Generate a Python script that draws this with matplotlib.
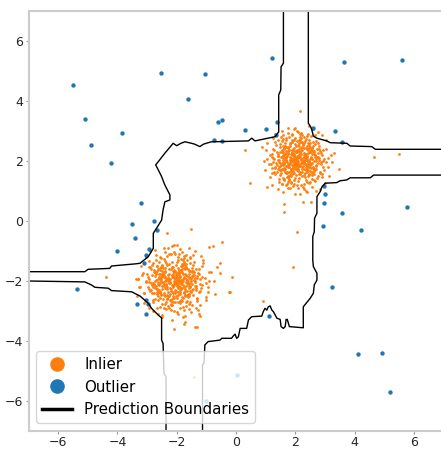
import numpy as np
import matplotlib
matplotlib.use("Agg")
import matplotlib.pyplot as plt
from matplotlib.lines import Line2D

# inliers around (2, 2): dense middle, then the looser ring around it
cluster_a = [
	(2.13,1.84), (1.87,2.21), (2.42,1.95), (1.65,1.62), (2.05,2.37), (2.31,1.73), (1.92,2.05), (1.58,2.29), (2.21,1.48), (2.67,2.12),
	(1.99,1.91), (1.74,1.79), (2.36,2.44), (2.08,1.66), (1.81,2.02), (2.54,1.88), (1.46,1.97), (2.12,2.58), (1.95,1.35), (2.28,2.18),
	(1.70,2.31), (2.03,1.76), (2.49,2.07), (1.88,1.55), (2.17,2.26), (1.61,1.93), (2.39,1.61), (2.00,2.14), (1.83,2.49), (2.25,1.99),
	(2.71,1.82), (1.52,2.11), (2.10,1.69), (1.97,2.33), (2.34,2.01), (1.77,1.45), (2.58,2.23), (1.90,1.87), (2.06,2.66), (1.68,2.08),
	(2.45,1.57), (2.19,2.41), (1.85,1.72), (2.62,1.98), (1.41,2.24), (2.02,1.52), (2.30,2.12), (1.79,2.36), (2.15,1.81), (1.94,2.19),
	(2.51,2.30), (1.63,1.77), (2.24,1.92), (2.09,2.52), (1.72,1.58), (2.38,1.83), (1.89,2.27), (2.80,2.04), (1.55,1.89), (2.14,1.41),
	(2.01,2.09), (1.76,2.43), (2.43,1.70), (1.93,1.98), (2.27,2.56), (1.60,2.16), (2.11,1.86), (2.56,2.38), (1.84,1.64), (2.20,2.03),
	(1.98,1.74), (2.33,2.22), (1.67,2.00), (2.47,1.79), (2.07,2.28), (1.82,1.94), (2.64,1.66), (1.49,1.81), (2.23,2.47), (1.96,2.11),
	(2.35,1.88), (1.73,2.15), (2.16,1.63), (2.52,2.09), (1.91,2.39), (2.04,1.96), (1.66,1.71), (2.29,1.51), (2.75,2.27), (1.86,2.06),
	(2.18,2.62), (1.57,2.01), (2.40,2.17), (2.00,1.83), (1.80,1.50), (2.26,1.91), (1.38,1.86), (2.60,1.75), (2.12,2.34), (1.95,1.60),
	(2.08,2.00), (1.78,1.87), (2.44,2.35), (1.62,2.40), (2.22,1.78), (1.90,2.20), (2.37,2.02), (1.71,1.96), (2.55,1.54), (2.03,2.48),
	(1.87,1.67), (2.31,1.97), (1.54,1.73), (2.14,2.13), (2.68,2.19), (1.99,1.43), (1.75,2.26), (2.41,1.85), (2.06,1.90), (1.83,2.60),
	(2.20,2.07), (1.64,2.22), (2.48,1.93), (1.93,1.76), (2.28,2.44), (1.69,1.84), (2.11,1.56), (2.86,1.89), (1.81,2.13), (2.36,1.68),
	(2.01,2.32), (1.59,1.95), (2.25,1.82), (1.96,2.05), (2.53,2.14), (1.73,1.62), (2.17,2.70), (1.88,1.99), (2.42,2.25), (2.05,1.70),
	(1.45,2.03), (2.32,2.10), (1.78,2.35), (2.61,1.80), (2.09,1.92), (1.85,1.48), (2.19,2.24), (1.67,2.12), (2.46,2.00), (1.97,2.42),
	(2.39,1.74), (1.76,1.90), (2.13,2.20), (1.92,1.65), (2.70,2.06), (1.56,2.28), (2.23,1.97), (2.00,2.55), (1.80,1.80), (2.34,1.59),
	(2.07,2.15), (1.70,2.04), (2.50,2.29), (1.89,2.37), (2.15,1.87), (1.62,1.69), (2.44,1.90), (1.95,2.23), (2.27,2.00), (1.83,1.53),
	(2.58,2.41), (1.48,1.92), (2.10,1.78), (2.02,2.08), (1.74,2.46), (2.36,2.17), (1.91,1.85), (2.65,1.71), (2.18,2.31), (1.86,2.10),
	(1.32,1.79), (2.21,1.64), (1.99,2.01), (2.47,2.51), (1.68,1.98), (2.12,2.40), (1.84,1.72), (2.30,1.95), (2.74,2.14), (1.94,1.89),
	(2.16,1.55), (1.61,2.18), (2.40,2.06), (2.04,1.81), (1.77,2.21), (2.29,2.27), (1.90,2.64), (2.55,1.94), (1.72,1.46), (2.08,2.09),
	(2.93,2.00), (1.52,1.70), (2.24,2.36), (1.97,1.93), (2.37,1.80), (1.82,2.03), (2.11,2.19), (1.65,2.50), (2.50,1.66), (2.00,1.98),
	(1.88,2.29), (2.33,1.88), (1.71,1.83), (2.63,2.24), (2.06,2.04), (1.79,1.61), (2.20,1.94), (1.42,2.16), (2.45,2.42), (1.93,1.78),
	(2.26,2.08), (1.86,2.00), (2.52,1.77), (1.60,2.09), (2.14,2.49), (2.01,1.87), (2.38,2.13), (1.75,2.32), (2.09,1.73), (1.96,2.16),
	(2.78,1.91), (1.57,1.86), (2.17,2.11), (1.85,1.95), (2.43,1.99), (1.69,2.25), (2.23,1.71), (2.03,2.30), (1.81,1.91), (2.35,2.21),
	(1.99,2.77), (2.57,2.33), (1.28,2.06), (2.10,1.32), (2.85,1.60), (1.50,2.55), (2.48,2.60), (1.63,1.40), (2.95,2.36), (1.22,1.75),
	(2.20,1.18), (1.90,2.88), (2.62,1.35), (1.40,2.70), (2.40,2.82), (1.55,1.22), (3.05,1.95), (1.15,2.20), (2.30,1.05), (2.05,3.00),
	(1.75,1.10), (2.70,2.65), (1.30,1.55), (2.98,1.70), (1.60,2.85), (2.45,1.25), (1.10,1.90), (2.80,2.50), (2.15,2.90), (1.85,1.25),
	(3.12,2.10), (1.25,2.40), (2.55,1.12), (2.00,3.10), (1.45,1.30), (2.90,1.45), (1.70,2.75), (2.65,2.85), (1.20,1.60), (2.35,0.98),
]
cluster_a_outer = [
	(2.62,2.31), (1.41,1.72), (2.15,2.78), (1.72,1.21), (2.83,1.64), (1.28,2.35), (2.48,1.28), (1.55,2.66), (2.91,2.18), (1.18,1.88),
	(2.36,2.72), (1.63,1.35), (2.74,1.42), (1.35,2.52), (2.05,1.18), (2.22,2.85), (1.47,1.51), (2.68,2.55), (1.24,2.09), (2.55,1.40),
	(1.80,2.80), (2.88,1.95), (1.39,1.62), (2.47,2.70), (1.92,1.15), (2.79,2.40), (1.52,2.78), (2.31,1.22), (1.21,2.22), (2.70,1.73),
	(1.66,2.60), (2.44,1.50), (1.43,2.03), (2.59,2.48), (1.76,1.30), (2.97,2.05), (1.31,1.77), (2.18,2.92), (1.58,1.44), (2.85,2.32),
	(1.47,2.46), (2.63,1.55), (1.88,2.87), (2.40,1.30), (1.26,1.95), (2.76,2.60), (1.69,1.18), (2.52,2.83), (1.37,2.30), (2.95,1.78),
	(2.10,1.10), (1.60,2.72), (2.81,2.08), (1.44,1.40), (2.28,2.80), (1.20,2.13), (2.66,1.33), (1.74,2.91), (2.50,2.45), (1.50,1.68),
	(2.90,1.57), (1.33,2.62), (2.25,1.14), (2.08,2.95), (1.56,1.22), (2.72,2.38), (1.29,1.63), (2.42,2.88), (1.83,1.08), (2.87,2.26),
	(1.62,2.44), (2.57,1.62), (1.40,2.15), (2.34,2.66), (1.95,1.24), (2.65,2.18), (1.51,1.85), (2.20,2.75), (2.78,1.50), (1.70,2.68),
	(2.45,1.78), (1.36,1.92), (2.60,2.62), (1.85,1.30), (2.38,2.50), (1.54,2.35), (2.70,2.00), (1.78,1.40), (2.30,2.60), (1.65,2.10),
	(2.55,1.60), (1.90,2.70), (2.50,1.85), (1.45,1.80), (2.40,2.40), (1.75,1.50), (2.64,2.28), (1.60,2.50), (2.33,1.45), (1.88,2.62),
	(2.58,2.05), (1.52,1.58), (2.27,2.52), (1.68,2.45), (2.46,1.52), (1.82,2.55), (2.69,1.86), (1.58,2.20), (2.36,1.37), (2.12,2.70),
	(1.70,1.60), (2.52,2.35), (1.49,2.28), (2.62,1.70), (1.96,2.68), (2.44,2.58), (1.63,1.88), (2.75,2.12), (1.80,1.35), (2.24,2.62),
	(3.02,2.40), (1.05,2.05), (2.40,0.95), (1.95,3.05), (3.10,1.80), (1.15,1.45), (2.75,2.95), (1.40,1.05), (3.00,1.25), (1.05,2.60),
	(2.60,3.05), (1.60,0.95), (3.20,2.20), (0.98,1.70), (2.15,0.90), (1.75,3.10), (3.15,1.50), (1.30,2.90), (2.85,1.05), (1.00,2.35),
	(2.45,3.15), (1.20,1.20), (3.05,2.70), (1.55,3.00), (2.70,0.98), (0.95,2.00), (2.00,0.88), (3.25,1.95), (1.25,2.75), (2.90,2.85),
]

# inliers around (-2, -2)
cluster_b = [
	(-2.13,-1.84), (-1.81,-2.23), (-2.52,-1.95), (-1.62,-1.60), (-2.05,-2.41), (-2.38,-1.71), (-1.92,-2.05), (-1.55,-2.33), (-2.27,-1.45), (-2.76,-2.14),
	(-1.99,-1.90), (-1.72,-1.77), (-2.44,-2.48), (-2.10,-1.63), (-1.80,-2.02), (-2.60,-1.86), (-1.42,-1.98), (-2.15,-2.62), (-1.95,-1.30), (-2.33,-2.20),
	(-1.66,-2.35), (-2.03,-1.74), (-2.57,-2.09), (-1.86,-1.52), (-2.20,-2.29), (-1.57,-1.92), (-2.46,-1.58), (-2.00,-2.16), (-1.82,-2.55), (-2.30,-1.99),
	(-2.82,-1.80), (-1.47,-2.12), (-2.12,-1.66), (-1.96,-2.38), (-2.40,-2.01), (-1.74,-1.40), (-2.66,-2.26), (-1.89,-1.86), (-2.07,-2.72), (-1.64,-2.08),
	(-2.53,-1.54), (-2.24,-2.45), (-1.84,-1.70), (-2.71,-1.97), (-1.35,-2.25), (-2.02,-1.48), (-2.35,-2.13), (-1.77,-2.40), (-2.17,-1.80), (-1.93,-2.21),
	(-2.60,-2.33), (-1.58,-1.76), (-2.28,-1.91), (-2.09,-2.57), (-1.69,-1.55), (-2.47,-1.82), (-1.88,-2.30), (-2.92,-2.04), (-1.50,-1.88), (-2.16,-1.36),
	(-2.01,-2.10), (-1.73,-2.47), (-2.50,-1.68), (-1.93,-1.99), (-2.32,-2.61), (-1.55,-2.17), (-2.11,-1.85), (-2.63,-2.42), (-1.83,-1.62), (-2.22,-2.04),
	(-1.97,-1.72), (-2.39,-2.24), (-1.61,-2.00), (-2.56,-1.78), (-2.07,-2.31), (-1.80,-1.93), (-2.75,-1.64), (-1.44,-1.81), (-2.25,-2.52), (-1.95,-2.12),
	(-2.42,-1.87), (-1.70,-2.16), (-2.18,-1.60), (-2.62,-2.10), (-1.90,-2.43), (-2.04,-1.96), (-1.60,-1.69), (-2.34,-1.46), (-2.86,-2.30), (-1.85,-2.06),
	(-2.19,-2.68), (-1.52,-2.02), (-2.48,-2.18), (-2.00,-1.82), (-1.78,-1.47), (-2.29,-1.90), (-1.30,-1.85), (-2.70,-1.73), (-2.13,-2.37), (-1.94,-1.58),
	(-2.09,-2.00), (-1.75,-1.86), (-2.55,-2.38), (-1.58,-2.44), (-2.26,-1.76), (-1.89,-2.21), (-2.45,-2.03), (-1.68,-1.95), (-2.65,-1.51), (-2.03,-2.52),
	(-1.86,-1.65), (-2.36,-1.97), (-1.48,-1.72), (-2.15,-2.14), (-2.79,-2.20), (-1.98,-1.39), (-1.73,-2.27), (-2.49,-1.84), (-2.06,-1.90), (-1.81,-2.66),
	(-2.23,-2.07), (-1.59,-2.24), (-2.58,-1.93), (-1.92,-1.75), (-2.33,-2.48), (-1.65,-1.83), (-2.12,-1.53), (-2.98,-1.88), (-1.79,-2.13), (-2.41,-1.66),
	(-2.01,-2.34), (-1.53,-1.95), (-2.30,-1.81), (-1.96,-2.05), (-2.61,-2.15), (-1.71,-1.61), (-2.18,-2.76), (-1.87,-1.99), (-2.51,-2.26), (-2.05,-1.69),
	(-1.38,-2.03), (-2.37,-2.11), (-1.76,-2.36), (-2.69,-1.79), (-2.10,-1.92), (-1.83,-1.45), (-2.21,-2.25), (-1.63,-2.12), (-2.54,-2.00), (-1.97,-2.46),
	(-2.45,-1.73), (-1.74,-1.90), (-2.14,-2.21), (-1.91,-1.63), (-2.80,-2.07), (-1.49,-2.30), (-2.27,-1.97), (-2.00,-2.59), (-1.79,-1.79), (-2.39,-1.57),
	(-2.08,-2.15), (-1.67,-2.04), (-2.59,-2.31), (-1.88,-2.39), (-2.16,-1.86), (-1.56,-1.67), (-2.52,-1.89), (-1.94,-2.23), (-2.31,-2.00), (-1.82,-1.50),
	(-2.67,-2.45), (-1.40,-1.91), (-2.11,-1.77), (-2.02,-2.08), (-1.72,-2.50), (-2.43,-2.17), (-1.90,-1.84), (-2.74,-1.70), (-2.19,-2.33), (-1.85,-2.10),
	(-1.25,-1.78), (-2.25,-1.62), (-1.98,-2.01), (-2.56,-2.56), (-1.64,-1.98), (-2.13,-2.42), (-1.83,-1.71), (-2.35,-1.95), (-2.84,-2.15), (-1.93,-1.88),
	(-2.17,-1.54), (-1.57,-2.19), (-2.47,-2.06), (-2.04,-1.80), (-1.75,-2.22), (-2.32,-2.28), (-1.89,-2.69), (-2.63,-1.93), (-1.69,-1.43), (-2.08,-2.09),
	(-3.02,-2.00), (-1.46,-1.69), (-2.28,-2.37), (-1.96,-1.92), (-2.42,-1.80), (-1.81,-2.03), (-2.11,-2.19), (-1.61,-2.54), (-2.58,-1.65), (-2.00,-1.98),
	(-1.87,-2.29), (-2.38,-1.88), (-1.68,-1.82), (-2.72,-2.25), (-2.06,-2.04), (-1.77,-1.59), (-2.22,-1.94), (-1.36,-2.17), (-2.53,-2.43), (-1.92,-1.77),
	(-2.27,-2.08), (-1.85,-2.00), (-2.60,-1.76), (-1.55,-2.09), (-2.14,-2.51), (-2.01,-1.86), (-2.44,-2.13), (-1.72,-2.33), (-2.09,-1.72), (-1.95,-2.17),
	(-2.90,-1.55), (-1.20,-2.35), (-2.35,-2.95), (-1.55,-1.25), (-3.10,-2.40), (-1.70,-2.85), (-2.55,-1.20), (-1.05,-1.90), (-2.80,-2.70), (-2.20,-1.10),
	(-1.30,-2.60), (-3.15,-1.75), (-2.00,-3.05), (-1.45,-1.15), (-2.65,-2.90), (-1.15,-1.50), (-3.25,-2.20), (-1.80,-3.20), (-2.40,-1.05), (-0.95,-2.20),
	(-1.60,-2.95), (-2.95,-1.35), (-1.00,-2.55), (-2.15,-3.30), (-3.30,-1.95), (-1.35,-2.90), (-2.70,-1.15), (-0.85,-1.70), (-2.50,-3.15), (-1.90,-0.95),
	(-1.10,-1.30), (-3.05,-2.65), (-0.75,-2.00), (-2.30,-0.90), (-1.75,-3.45), (-0.65,-1.55), (-3.35,-2.50), (-1.25,-3.10), (-2.10,-0.80), (-0.70,-2.45),
]
cluster_b_outer = [
	(-2.68,-2.36), (-1.42,-1.71), (-2.15,-2.82), (-1.74,-1.18), (-2.88,-1.62), (-1.25,-2.38), (-2.52,-1.25), (-1.55,-2.70), (-2.96,-2.20), (-1.15,-1.88),
	(-2.38,-2.78), (-1.64,-1.30), (-2.80,-1.40), (-1.32,-2.56), (-2.05,-1.12), (-2.25,-2.92), (-1.45,-1.48), (-2.72,-2.60), (-1.20,-2.10), (-2.60,-1.38),
	(-1.80,-2.86), (-2.95,-1.95), (-1.36,-1.60), (-2.50,-2.76), (-1.92,-1.10), (-2.84,-2.42), (-1.50,-2.82), (-2.34,-1.18), (-1.18,-2.25), (-2.76,-1.72),
	(-1.64,-2.66), (-2.48,-1.46), (-1.40,-2.02), (-2.64,-2.52), (-1.76,-1.25), (-3.02,-2.05), (-1.28,-1.75), (-2.18,-2.98), (-1.56,-1.40), (-2.90,-2.34),
	(-1.45,-2.48), (-2.68,-1.52), (-1.88,-2.92), (-2.42,-1.26), (-1.22,-1.95), (-2.80,-2.65), (-1.68,-1.14), (-2.55,-2.88), (-1.34,-2.32), (-3.00,-1.78),
	(-2.10,-1.05), (-1.58,-2.76), (-2.86,-2.08), (-1.42,-1.36), (-2.30,-2.85), (-1.16,-2.14), (-2.70,-1.30), (-1.74,-2.96), (-2.54,-2.46), (-1.48,-1.68),
	(-2.94,-1.55), (-1.30,-2.66), (-2.26,-1.10), (-2.08,-3.00), (-1.54,-1.20), (-2.76,-2.40), (-1.26,-1.62), (-2.44,-2.92), (-1.82,-1.04), (-2.92,-2.27),
	(-1.60,-2.45), (-2.62,-1.60), (-1.38,-2.16), (-2.36,-2.70), (-1.95,-1.20), (-2.70,-2.18), (-1.48,-1.85), (-2.20,-2.80), (-2.82,-1.48), (-1.70,-2.72),
	(-2.48,-1.78), (-1.33,-1.92), (-2.64,-2.65), (-1.85,-1.26), (-2.40,-2.52), (-1.52,-2.36), (-2.74,-2.00), (-1.76,-1.38), (-2.32,-2.62), (-1.62,-2.10),
	(-2.58,-1.58), (-1.90,-2.74), (-2.52,-1.86), (-1.42,-1.80), (-2.42,-2.42), (-1.72,-1.48), (-2.68,-2.28), (-1.57,-2.52), (-2.35,-1.42), (-1.86,-2.64),
	(-2.62,-2.04), (-1.50,-1.56), (-2.28,-2.55), (-1.66,-2.46), (-2.48,-1.50), (-1.80,-2.58), (-2.72,-1.85), (-1.55,-2.22), (-2.38,-1.34), (-2.12,-2.72),
	(-1.68,-1.58), (-2.55,-2.36), (-1.46,-2.28), (-2.66,-1.68), (-1.96,-2.70), (-2.46,-2.60), (-1.60,-1.88), (-2.78,-2.12), (-1.78,-1.32), (-2.24,-2.64),
	(-3.12,-2.42), (-1.00,-2.08), (-2.42,-0.92), (-1.95,-3.12), (-3.18,-1.80), (-1.10,-1.42), (-2.80,-3.00), (-1.38,-1.02), (-3.05,-1.22), (-1.02,-2.64),
	(-2.62,-3.10), (-1.60,-0.92), (-3.28,-2.22), (-0.92,-1.72), (-2.15,-0.85), (-1.72,-3.18), (-3.20,-1.50), (-1.28,-2.96), (-2.90,-1.02), (-0.96,-2.36),
	(-2.48,-3.22), (-1.18,-1.18), (-3.10,-2.74), (-1.52,-3.05), (-2.74,-0.96), (-0.90,-2.00), (-2.00,-0.82), (-3.32,-1.95), (-1.22,-2.80), (-2.95,-2.90),
]

# inliers lying away from the two blobs
inlier_far = [
	(2.16,3.67), (0.30,2.37), (0.87,2.47), (4.66,2.11), (5.50,2.21), (0.47,1.26), (1.06,1.13),
	(1.63,0.30), (1.63,0.55), (2.27,0.61), (2.53,0.61), (3.46,1.73), (3.29,2.26),
	(1.91,-1.55), (2.05,-0.39), (0.90,-2.68), (-0.12,-1.87), (-0.24,-2.38), (-1.41,-5.21), (-4.37,-1.89),
	(-0.47,-0.70), (-0.92,-0.89), (-0.78,-0.83), (-0.21,-2.37), (-3.37,-1.95), (-0.54,-1.41), (-0.54,-1.74),
	(-2.34,-0.42), (-1.52,-0.28), (-2.09,-3.62), (-1.72,-3.38), (-1.39,-3.53), (-1.22,-3.18), (-1.31,-3.55),
]

outliers = [
	(-5.51,4.53), (-5.08,3.38), (-4.89,2.52), (-3.83,2.91), (-4.23,1.91), (-2.53,4.93), (-1.04,4.89), (-1.61,4.04),
	(-0.62,3.30), (-0.46,3.36), (-0.73,2.69), (-0.48,2.65), (0.30,3.02), (1.00,3.05), (1.39,3.30), (1.35,2.86),
	(1.23,5.41), (3.63,5.29), (5.60,5.36), (2.61,3.10), (3.34,3.00), (3.58,2.61), (2.98,1.16), (3.01,0.88),
	(2.97,0.60), (3.58,0.27), (5.77,0.47), (2.93,-0.17), (4.20,-0.32), (3.24,-2.22), (1.13,-3.18), (4.11,-4.43),
	(4.93,-4.40), (5.20,-5.71), (0.02,-5.15), (-1.01,-6.00), (-3.22,0.59), (-3.52,-0.11), (-2.77,0.00), (-3.42,-0.57),
	(-2.68,-0.31), (-4.01,-1.01), (-2.93,-0.95), (-3.02,-1.15), (-3.11,-1.40), (-5.37,-2.29), (-3.34,-2.77), (-3.05,-2.64),
	(-2.98,-2.79), (-3.03,-3.10),
]

# decision boundary pieces, each runs from one edge of the plot to another
bound1_x = [1.60, 1.60, 1.52, 1.51, 1.44, 1.44, 1.32, 0.64, 0.53, 0.42, -0.82, -0.94, -1.10, -1.22, -1.39, -1.50, -1.72, -1.86, -2.00, -2.12, -2.17,
	-2.40, -2.62, -2.71, -2.62, -2.51, -2.40, -2.23, -2.23, -2.40, -2.46, -2.51, -2.68, -2.79, -2.79, -2.96, -3.24, -3.41, -4.20, -4.26, -4.99, -5.10, -7.0]
bound1_y = [7.0, 5.25, 5.13, 4.36, 4.19, 2.96, 2.80, 2.66, 2.75, 2.66, 2.63, 2.60, 2.55, 2.47, 2.55, 2.58, 2.63, 2.58, 2.50, 2.58, 2.52,
	2.25, 1.97, 1.86, 1.69, 1.47, 1.19, 0.86, 0.69, 0.63, 0.36, 0.02, -0.25, -0.42, -0.92, -1.20, -1.42, -1.44, -1.51, -1.59, -1.62, -1.70, -1.70]

bound2_x = [-7.0, -5.10, -4.88, -4.76, -4.31, -4.20, -3.52, -3.24, -2.96, -2.85, -2.63, -2.51, -2.51, -2.46, -2.43, -2.36, -2.36]
bound2_y = [-2.01, -2.04, -2.14, -2.22, -2.25, -2.33, -2.37, -2.51, -2.75, -2.92, -3.14, -3.24, -3.98, -4.09, -5.09, -5.20, -7.0]

bound3_x = [-1.13, -1.13, -1.08, -1.05, -0.94, -0.54, -0.48, -0.15, -0.09, -0.03, 0.02, 0.08, 0.14, 0.36, 0.42, 0.53, 0.87, 0.92, 0.98, 1.04,
	1.09, 1.15, 1.21, 1.26, 1.38, 1.49, 1.52, 1.60, 1.66, 1.69, 1.73, 1.80, 2.27, 2.27, 2.50, 2.61, 2.64, 2.73, 2.73, 2.61,
	2.59, 2.59, 2.64, 2.65, 2.73, 2.73, 2.84, 2.90, 3.01, 3.40, 3.51, 3.74, 3.85, 4.53, 4.64, 7.0]
bound3_y = [-7.0, -4.81, -4.75, -4.14, -4.03, -3.98, -3.92, -3.92, -3.84, -3.78, -3.92, -3.87, -3.59, -3.59, -3.31, -3.20, -3.18, -3.03, -2.92, -2.98,
	-2.87, -2.84, -2.98, -3.03, -3.25, -3.29, -3.53, -3.59, -3.53, -3.29, -3.29, -3.53, -3.57, -2.87, -2.59, -2.42, -2.14, -1.98, -1.75, -1.53,
	-1.31, -0.53, -0.37, 0.08, 0.25, 0.80, 0.97, 1.13, 1.25, 1.27, 1.33, 1.36, 1.43, 1.43, 1.52, 1.52]

bound4_x = [7.0, 4.70, 4.58, 3.85, 3.74, 3.18, 3.06, 2.73, 2.61, 2.56, 2.52, 2.48, 2.44, 2.44]
bound4_y = [2.38, 2.38, 2.47, 2.49, 2.58, 2.60, 2.66, 2.75, 2.82, 3.02, 3.13, 3.19, 3.25, 7.0]

ticks = [-6, -4, -2, 0, 2, 4, 6]


def main():
	inl = np.array(cluster_a + cluster_a_outer + cluster_b + cluster_b_outer + inlier_far)
	out = np.array(outliers)

	fig = plt.figure(figsize=(4.41, 4.49), dpi=100)
	# axes run a little past the right edge of the canvas
	ax = fig.add_axes([28.5 / 441, 18.3 / 449, 415 / 441, 420 / 449])

	ax.scatter(inl[:, 0], inl[:, 1], s=4, c='#ff7f0e', linewidths=0)
	ax.scatter(out[:, 0], out[:, 1], s=10, c='#1f77b4', linewidths=0)

	for bx, by in [(bound1_x, bound1_y), (bound2_x, bound2_y), (bound3_x, bound3_y), (bound4_x, bound4_y)]:
		ax.plot(bx, by, color='k', lw=1.0)

	ax.set_xlim(-7, 7)
	ax.set_ylim(-7, 7)
	ax.set_xticks(ticks)
	ax.set_yticks(ticks)
	ax.set_xticklabels([str(t).replace('-', '\u2212') for t in ticks])
	ax.set_yticklabels([str(t).replace('-', '\u2212') for t in ticks])
	ax.tick_params(labelsize=9, length=2.5, width=0.8, pad=1.5, color='#999999', labelcolor='#262626')
	for sp in ax.spines.values():
		sp.set_color('#cccccc')
		sp.set_linewidth(1.5)

	handles = [
		Line2D([], [], marker='o', ls='', color='#ff7f0e', markersize=9.5),
		Line2D([], [], marker='o', ls='', color='#1f77b4', markersize=9.5),
		Line2D([], [], color='k', lw=2.5),
	]
	ax.legend(handles, ['Inlier', 'Outlier', 'Prediction Boundaries'], loc='lower left', fontsize=10.8)

	fig.savefig('out.png', dpi=100)


if __name__ == "__main__":
	main()
